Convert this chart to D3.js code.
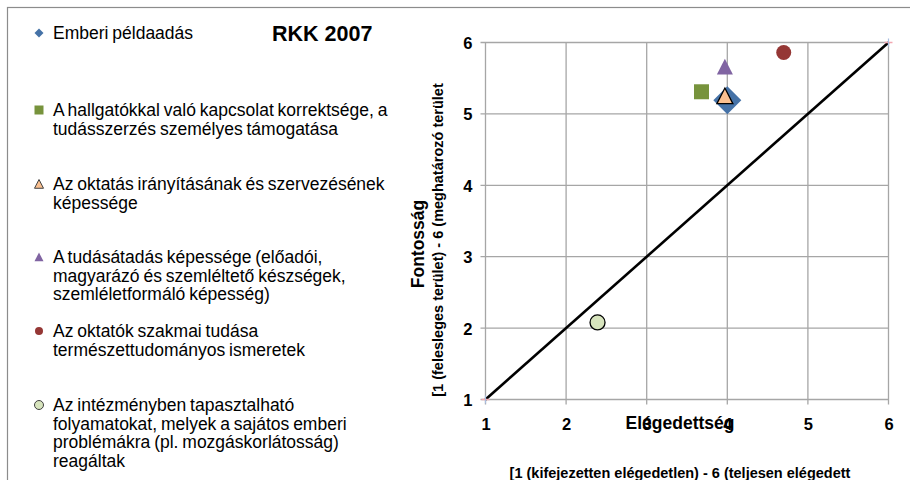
<!DOCTYPE html>
<html>
<head>
<meta charset="utf-8">
<script src="https://cdn.jsdelivr.net/npm/d3@7"></script>
<style>
  body { margin: 0; background: #fff; }
  svg { font-family: "Liberation Sans", Arial, sans-serif; }
</style>
</head>
<body>
<svg id="chart" width="910" height="480"></svg>
<script>
// data
var seriesNames = [
  ["Emberi példaadás"],
  ["A hallgatókkal való kapcsolat korrektsége, a", "tudásszerzés személyes támogatása"],
  ["Az oktatás irányításának és szervezésének", "képessége"],
  ["A tudásátadás képessége (előadói,", "magyarázó és szemléltető készségek,", "szemléletformáló képesség)"],
  ["Az oktatók szakmai tudása", "természettudományos ismeretek"],
  ["Az intézményben tapasztalható", "folyamatokat, melyek a sajátos emberi", "problémákra (pl. mozgáskorlátosság)", "reagáltak"]
];
var satisfaction = [4.0, 3.68, 3.97, 3.97, 4.7, 2.39];
var importance   = [5.19, 5.31, 5.25, 5.66, 5.86, 2.08];
var refLineX = [1, 6];
var refLineY = [1, 6];
var xTicks = [1, 2, 3, 4, 5, 6];
var yTicks = [1, 2, 3, 4, 5, 6];

var shapes  = ["diamond", "square", "triangle", "triangle", "circle", "circle"];
var fills   = ["#4572A7", "#77933C", "#FAC090", "#8064A2", "#953735", "#D7E4BD"];
var strokes = ["none", "none", "#000", "none", "none", "#000"];
var legendY = [33, 110, 184, 257, 331, 405];

var svg = d3.select("#chart");

// outer frame
svg.append("rect").attr("x", 7.5).attr("y", 7.5).attr("width", 920).attr("height", 500)
  .style("fill", "none").style("stroke", "#8c8c8c").style("stroke-width", 1.2);

var xScale = d3.scaleLinear().domain([1, 6]).range([485.5, 888.5]);
var yScale = d3.scaleLinear().domain([1, 6]).range([399.5, 42.5]);

function markerPath(shape, size) {
  if (shape == "diamond") {
    return "M0," + (-size) + "L" + size + ",0L0," + size + "L" + (-size) + ",0Z";
  }
  if (shape == "square") {
    return "M" + (-size) + "," + (-size) + "h" + (2 * size) + "v" + (2 * size) + "h" + (-2 * size) + "Z";
  }
  if (shape == "triangle") {
    return "M0," + (-size) + "L" + size + "," + (size * 0.95) + "L" + (-size) + "," + (size * 0.95) + "Z";
  }
  return d3.arc()({innerRadius: 0, outerRadius: size, startAngle: 0, endAngle: 2 * Math.PI});
}

// grid
var plot = svg.append("g");
plot.selectAll(".vgrid").data(xTicks).enter().append("line")
  .attr("x1", function (d) { return xScale(d); }).attr("x2", function (d) { return xScale(d); })
  .attr("y1", yScale(6)).attr("y2", yScale(1) + 5)
  .style("stroke", "#a6a6a6").style("stroke-width", 1.3);
plot.selectAll(".hgrid").data(yTicks).enter().append("line")
  .attr("x1", xScale(1) - 5).attr("x2", xScale(6))
  .attr("y1", function (d) { return yScale(d); }).attr("y2", function (d) { return yScale(d); })
  .style("stroke", "#a6a6a6").style("stroke-width", 1.3);

// axes labels
var xAxis = d3.axisBottom(xScale).tickValues(xTicks).tickFormat(d3.format("d")).tickSize(0).tickPadding(19);
var yAxis = d3.axisLeft(yScale).tickValues(yTicks).tickFormat(d3.format("d")).tickSize(0).tickPadding(13);
var gx = svg.append("g").attr("transform", "translate(0," + yScale(1) + ")").call(xAxis);
var gy = svg.append("g").attr("transform", "translate(" + xScale(1) + ",0)").call(yAxis);
[gx, gy].forEach(function (g) {
  g.select(".domain").remove();
  g.selectAll("text").style("font-family", "Liberation Sans, Arial, sans-serif")
    .style("font-size", "16.5px").style("font-weight", "bold").style("fill", "#000");
});
gy.selectAll("text").attr("dy", "0.36em");

// axis titles
svg.append("text").attr("x", 680).attr("y", 429).attr("text-anchor", "middle")
  .style("font-size", "17.5px").style("font-weight", "bold").text("Elégedettség");
svg.append("text").attr("x", 680).attr("y", 478).attr("text-anchor", "middle")
  .style("font-size", "14.5px").style("font-weight", "bold")
  .text("[1 (kifejezetten elégedetlen) - 6 (teljesen elégedett");
svg.append("text").attr("transform", "translate(424,244) rotate(-90)").attr("text-anchor", "middle")
  .style("font-size", "17.5px").style("font-weight", "bold").text("Fontosság");
svg.append("text").attr("transform", "translate(443,240) rotate(-90)").attr("text-anchor", "middle")
  .style("font-size", "14.5px").style("font-weight", "bold")
  .text("[1 (felesleges terület) - 6 (meghatározó terület");

// reference line
svg.append("line")
  .attr("x1", xScale(refLineX[0])).attr("y1", yScale(refLineY[0]))
  .attr("x2", xScale(refLineX[1])).attr("y2", yScale(refLineY[1]))
  .style("stroke", "#000").style("stroke-width", 2.6);
refLineX.forEach(function (v, i) {
  var cx = xScale(v), cy = yScale(refLineY[i]);
  svg.append("line").attr("x1", cx - 4).attr("x2", cx + 4).attr("y1", cy).attr("y2", cy)
    .style("stroke", "#f2a7b0").style("stroke-width", 1.5);
  svg.append("line").attr("x1", cx).attr("x2", cx).attr("y1", cy - 4).attr("y2", cy + 4)
    .style("stroke", "#a9bde0").style("stroke-width", 1.2);
});

// points
var plotSizes = [14, 7.5, 8, 8, 7.5, 7.5];
svg.selectAll(".pt").data(satisfaction).enter().append("path")
  .attr("class", "pt")
  .attr("transform", function (d, i) { return "translate(" + xScale(d) + "," + yScale(importance[i]) + ")"; })
  .attr("d", function (d, i) { return markerPath(shapes[i], plotSizes[i]); })
  .style("fill", function (d, i) { return fills[i]; })
  .style("stroke", function (d, i) { return strokes[i]; })
  .style("stroke-width", 1.3);

// legend
var legendSizes = [4.5, 4.5, 4.5, 4.5, 4, 4.5];
var legend = svg.append("g");
seriesNames.forEach(function (lines, i) {
  legend.append("path")
    .attr("transform", "translate(39," + legendY[i] + ")")
    .attr("d", markerPath(shapes[i], legendSizes[i]))
    .style("fill", fills[i])
    .style("stroke", strokes[i] == "none" ? "none" : "#404040")
    .style("stroke-width", 1);
  lines.forEach(function (line, n) {
    legend.append("text")
      .attr("x", 53).attr("y", legendY[i] + n * 18.5).attr("dy", "0.35em")
      .style("font-size", "17.5px").style("word-spacing", "-1px").style("fill", "#000")
      .text(line);
  });
});

svg.append("text").attr("x", 272).attr("y", 33).attr("dy", "0.36em")
  .style("font-size", "21.5px").style("font-weight", "bold").text("RKK 2007");
</script>
</body>
</html>
